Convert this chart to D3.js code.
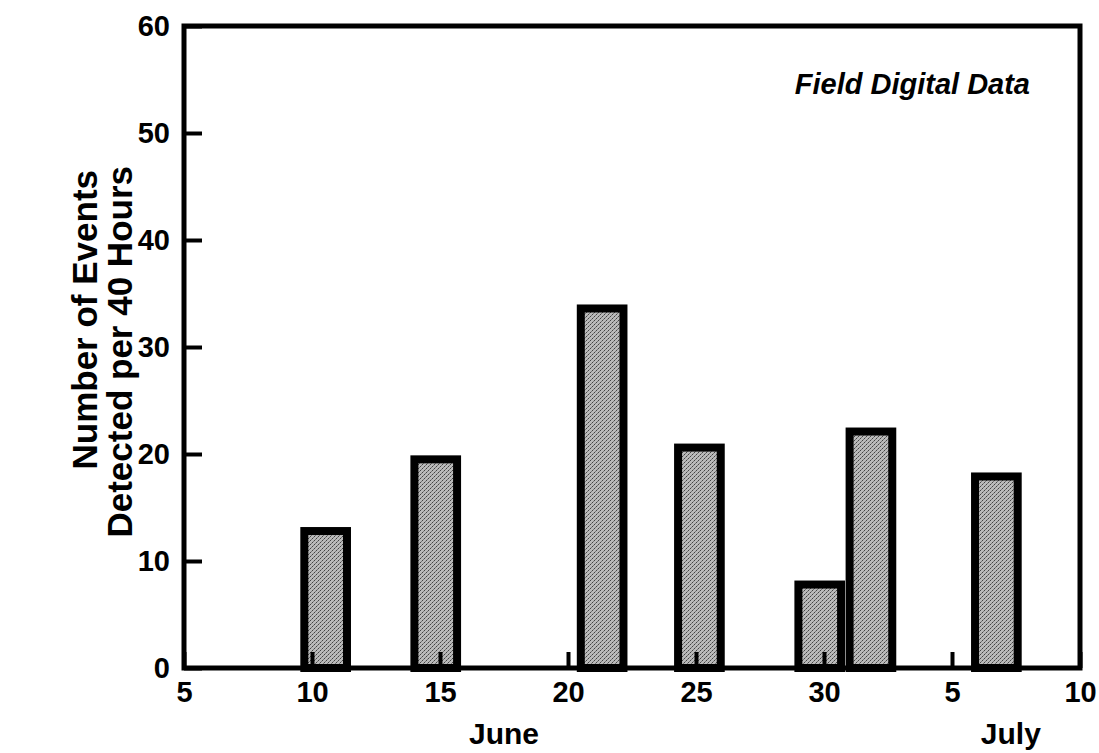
<!DOCTYPE html>
<html>
<head>
<meta charset="utf-8">
<script src="https://cdn.jsdelivr.net/npm/d3@7"></script>
<style>
  body { margin: 0; background: #fff; }
  text { font-family: "Liberation Sans", Arial, Helvetica, sans-serif; fill: #000; }
</style>
</head>
<body>
<script>
// Day numbers counted from the start of June (July 5 = 35)
var tickDays = [5, 10, 15, 20, 25, 30, 35, 40];
var tickLabels = ["5", "10", "15", "20", "25", "30", "5", "10"];

// Start day of each 40-hour recording period, and events detected in it
var startDays = [9.7, 14.0, 20.5, 24.3, 29.0, 31.0, 35.9];
var events = [12.8, 19.5, 33.6, 20.6, 7.8, 22.1, 17.9];
var periodDays = 40 / 24;

var yTicks = [0, 10, 20, 30, 40, 50, 60];

//Define Margin
var margin = {left: 184, right: 19, top: 26, bottom: 85},
    width = 1099 - margin.left - margin.right,
    height = 753 - margin.top - margin.bottom;

var bars = startDays.map(function(s, i) { return {start: s, value: events[i]}; });

//Define SVG
var root = d3.select("body")
    .append("svg")
    .attr("width", 1099)
    .attr("height", 753);

//Halftone fill like the printed figure
var defs = root.append("defs");
var pat = defs.append("pattern")
    .attr("id", "dots")
    .attr("width", 4)
    .attr("height", 4)
    .attr("patternUnits", "userSpaceOnUse");
pat.append("rect").attr("width", 4).attr("height", 4).attr("fill", "#bababa");
pat.append("rect").attr("x", 0).attr("y", 0).attr("width", 1).attr("height", 1).attr("fill", "#444");
pat.append("rect").attr("x", 2).attr("y", 2).attr("width", 1).attr("height", 1).attr("fill", "#444");
pat.append("rect").attr("x", 1).attr("y", 3).attr("width", 1).attr("height", 1).attr("fill", "#777");
pat.append("rect").attr("x", 3).attr("y", 1).attr("width", 1).attr("height", 1).attr("fill", "#777");

var svg = root.append("g")
    .attr("transform", "translate(" + margin.left + "," + margin.top + ")");

//Scales
var x = d3.scaleLinear().domain([5, 40]).range([0, width]);
var y = d3.scaleLinear().domain([0, 60]).range([height, 0]);

//Draw bars
svg.append("g")
    .selectAll("rect")
    .data(bars)
    .enter().append("rect")
    .attr("x", function(d) { return x(d.start); })
    .attr("y", function(d) { return y(d.value); })
    .attr("width", function(d) { return x(d.start + periodDays) - x(d.start); })
    .attr("height", function(d) { return y(0) - y(d.value); })
    .attr("fill", "url(#dots)")
    .attr("stroke", "#000")
    .attr("stroke-width", 8);

//X axis, ticks pointing inward
var xAxis = svg.append("g")
    .attr("transform", "translate(0," + height + ")")
    .call(d3.axisBottom(x)
        .tickValues(tickDays)
        .tickFormat(function(d, i) { return tickLabels[i]; })
        .tickSizeInner(-16)
        .tickSizeOuter(0)
        .tickPadding(13));
xAxis.select(".domain").remove();
xAxis.selectAll("line").attr("stroke", "#000").attr("stroke-width", 4);
xAxis.selectAll("text")
    .attr("font-size", 29)
    .attr("font-weight", "bold");

//Y axis, ticks pointing inward
var yAxis = svg.append("g")
    .call(d3.axisLeft(y)
        .tickValues(yTicks)
        .tickSizeInner(-18)
        .tickSizeOuter(0)
        .tickPadding(14));
yAxis.select(".domain").remove();
yAxis.selectAll("line").attr("stroke", "#000").attr("stroke-width", 4);
yAxis.selectAll("text")
    .attr("font-size", 29)
    .attr("font-weight", "bold");

//Frame
svg.append("rect")
    .attr("width", width)
    .attr("height", height)
    .attr("fill", "none")
    .attr("stroke", "#000")
    .attr("stroke-width", 5);

//Month labels
svg.append("text")
    .attr("x", x(20) - 64)
    .attr("y", height + 76)
    .attr("text-anchor", "middle")
    .attr("font-size", 30)
    .attr("font-weight", "bold")
    .text("June");
svg.append("text")
    .attr("x", x(37.3))
    .attr("y", height + 76)
    .attr("text-anchor", "middle")
    .attr("font-size", 30)
    .attr("font-weight", "bold")
    .text("July");

//Inset title
svg.append("text")
    .attr("x", width - 50)
    .attr("y", 68)
    .attr("text-anchor", "end")
    .attr("font-size", 29)
    .attr("font-weight", "bold")
    .attr("font-style", "italic")
    .text("Field Digital Data");

//Y axis title, two lines, both ending near the top
var yTitle = root.append("text")
    .attr("transform", "translate(0,166) rotate(-90)")
    .attr("text-anchor", "end")
    .attr("font-size", 35)
    .attr("font-weight", "bold");
yTitle.append("tspan").attr("x", -4).attr("y", 97).text("Number of Events");
yTitle.append("tspan").attr("x", 0).attr("y", 132).text("Detected per 40 Hours");
</script>
</body>
</html>
